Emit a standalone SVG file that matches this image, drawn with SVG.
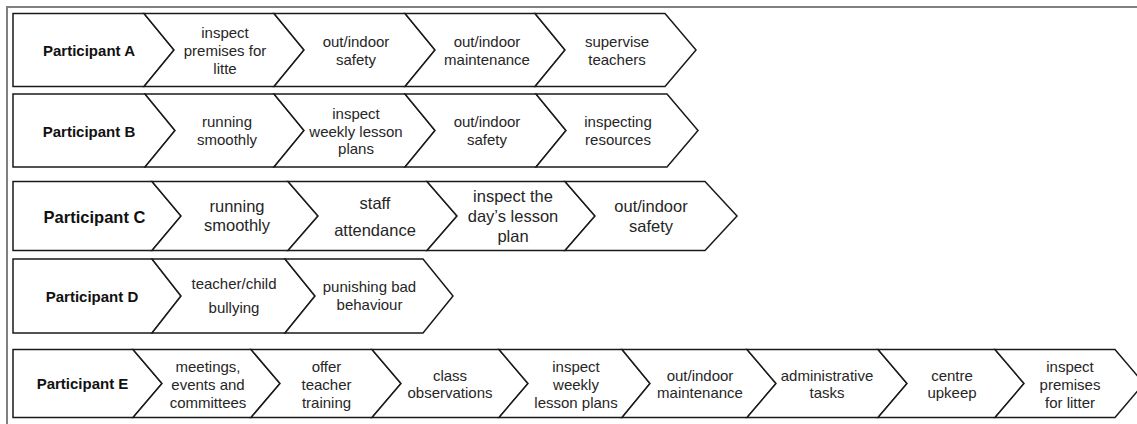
<svg xmlns="http://www.w3.org/2000/svg" width="1137" height="424" viewBox="0 0 1137 424">
<style>
  .frame { fill: none; stroke: #808080; stroke-width: 2; }
  .shape { fill: #ffffff; stroke: #1a1a1a; stroke-width: 1.5; stroke-linejoin: miter; }
  text { font-family: "Liberation Sans", Arial, sans-serif; font-size: 15px; fill: #262626; text-anchor: middle; }
  .lbl { font-weight: bold; fill: #111111; }
  .big { font-size: 16.5px; }
</style>
<rect width="1137" height="424" fill="#ffffff"/>
<path class="frame" d="M7,424 V7 H1137"/>
<g id="connectors"></g>
<g id="participant-a">
  <polygon class="shape" points="13,13.5 144,13.5 174,50 144,86.5 13,86.5"/>
  <text class="lbl" x="89" y="56">Participant A</text>
</g>
<g id="a-1">
  <polygon class="shape" points="144,13.5 274,13.5 304,50 274,86.5 144,86.5 174,50"/>
  <text x="225" y="37.5">inspect</text><text x="225" y="55.5">premises for</text><text x="225" y="73.5">litte</text>
</g>
<g id="a-2">
  <polygon class="shape" points="274,13.5 405,13.5 435,50 405,86.5 274,86.5 304,50"/>
  <text x="356" y="46.5">out/indoor</text><text x="356" y="64.5">safety</text>
</g>
<g id="a-3">
  <polygon class="shape" points="405,13.5 535,13.5 565,50 535,86.5 405,86.5 435,50"/>
  <text x="487" y="46.5">out/indoor</text><text x="487" y="64.5">maintenance</text>
</g>
<g id="a-4">
  <polygon class="shape" points="535,13.5 665,13.5 696,50 665,86.5 535,86.5 565,50"/>
  <text x="617" y="46.5">supervise</text><text x="617" y="64.5">teachers</text>
</g>
<g id="participant-b">
  <polygon class="shape" points="13,94 145,94 175,130.5 145,167 13,167"/>
  <text class="lbl" x="89" y="136.5">Participant B</text>
</g>
<g id="b-1">
  <polygon class="shape" points="145,94 274,94 304,130.5 274,167 145,167 175,130.5"/>
  <text x="227" y="127">running</text><text x="227" y="145">smoothly</text>
</g>
<g id="b-2">
  <polygon class="shape" points="274,94 405,94 435,130.5 405,167 274,167 304,130.5"/>
  <text x="356" y="119">inspect</text><text x="356" y="136.5">weekly lesson</text><text x="356" y="154">plans</text>
</g>
<g id="b-3">
  <polygon class="shape" points="405,94 536,94 566,130.5 536,167 405,167 435,130.5"/>
  <text x="487" y="127">out/indoor</text><text x="487" y="145">safety</text>
</g>
<g id="b-4">
  <polygon class="shape" points="536,94 667,94 698,130.5 667,167 536,167 566,130.5"/>
  <text x="618" y="127">inspecting</text><text x="618" y="145">resources</text>
</g>
<g id="participant-c">
  <polygon class="shape" points="13,181.5 152,181.5 181,216 152,250.5 13,250.5"/>
  <text class="lbl big" x="94.5" y="222.5">Participant C</text>
</g>
<g id="c-1">
  <polygon class="shape" points="152,181.5 288,181.5 318,216 288,250.5 152,250.5 181,216"/>
  <text class="big" x="237" y="212">running</text><text class="big" x="237" y="231">smoothly</text>
</g>
<g id="c-2">
  <polygon class="shape" points="288,181.5 427,181.5 457,216 427,250.5 288,250.5 318,216"/>
  <text class="big" x="375" y="209">staff</text><text class="big" x="375" y="236">attendance</text>
</g>
<g id="c-3">
  <polygon class="shape" points="427,181.5 565,181.5 595,216 565,250.5 427,250.5 457,216"/>
  <text class="big" x="513" y="202">inspect the</text><text class="big" x="513" y="222">day’s lesson</text><text class="big" x="513" y="241.5">plan</text>
</g>
<g id="c-4">
  <polygon class="shape" points="565,181.5 705,181.5 737,216 705,250.5 565,250.5 595,216"/>
  <text class="big" x="651" y="212">out/indoor</text><text class="big" x="651" y="232">safety</text>
</g>
<g id="participant-d">
  <polygon class="shape" points="13,259 152,259 181,296 152,333 13,333"/>
  <text class="lbl" x="92" y="302">Participant D</text>
</g>
<g id="d-1">
  <polygon class="shape" points="152,259 285,259 315,296 285,333 152,333 181,296"/>
  <text x="234" y="288.5">teacher/child</text><text x="234" y="313">bullying</text>
</g>
<g id="d-2">
  <polygon class="shape" points="285,259 423,259 453,296 423,333 285,333 315,296"/>
  <text x="369.5" y="292">punishing bad</text><text x="369.5" y="309.5">behaviour</text>
</g>
<g id="participant-e">
  <polygon class="shape" points="13,349.5 133,349.5 162,383.5 133,417.5 13,417.5"/>
  <text class="lbl" x="82.5" y="389">Participant E</text>
</g>
<g id="e-1">
  <polygon class="shape" points="133,349.5 251,349.5 280,383.5 251,417.5 133,417.5 162,383.5"/>
  <text x="208" y="372">meetings,</text><text x="208" y="389.5">events and</text><text x="208" y="407.5">committees</text>
</g>
<g id="e-2">
  <polygon class="shape" points="251,349.5 372,349.5 401,383.5 372,417.5 251,417.5 280,383.5"/>
  <text x="326.5" y="372">offer</text><text x="326.5" y="389.5">teacher</text><text x="326.5" y="407.5">training</text>
</g>
<g id="e-3">
  <polygon class="shape" points="372,349.5 499,349.5 528,383.5 499,417.5 372,417.5 401,383.5"/>
  <text x="450" y="380.5">class</text><text x="450" y="398">observations</text>
</g>
<g id="e-4">
  <polygon class="shape" points="499,349.5 622,349.5 650,383.5 622,417.5 499,417.5 528,383.5"/>
  <text x="576" y="372">inspect</text><text x="576" y="389.5">weekly</text><text x="576" y="407.5">lesson plans</text>
</g>
<g id="e-5">
  <polygon class="shape" points="622,349.5 747,349.5 776,383.5 747,417.5 622,417.5 650,383.5"/>
  <text x="700" y="380.5">out/indoor</text><text x="700" y="398">maintenance</text>
</g>
<g id="e-6">
  <polygon class="shape" points="747,349.5 878,349.5 907,383.5 878,417.5 747,417.5 776,383.5"/>
  <text x="827" y="380.5">administrative</text><text x="827" y="398">tasks</text>
</g>
<g id="e-7">
  <polygon class="shape" points="878,349.5 995,349.5 1024,383.5 995,417.5 878,417.5 907,383.5"/>
  <text x="952" y="380.5">centre</text><text x="952" y="398">upkeep</text>
</g>
<g id="e-8">
  <polygon class="shape" points="995,349.5 1115,349.5 1144,383.5 1115,417.5 995,417.5 1024,383.5"/>
  <text x="1070" y="372">inspect</text><text x="1070" y="389.5">premises</text><text x="1070" y="407.5">for litter</text>
</g>
</svg>
